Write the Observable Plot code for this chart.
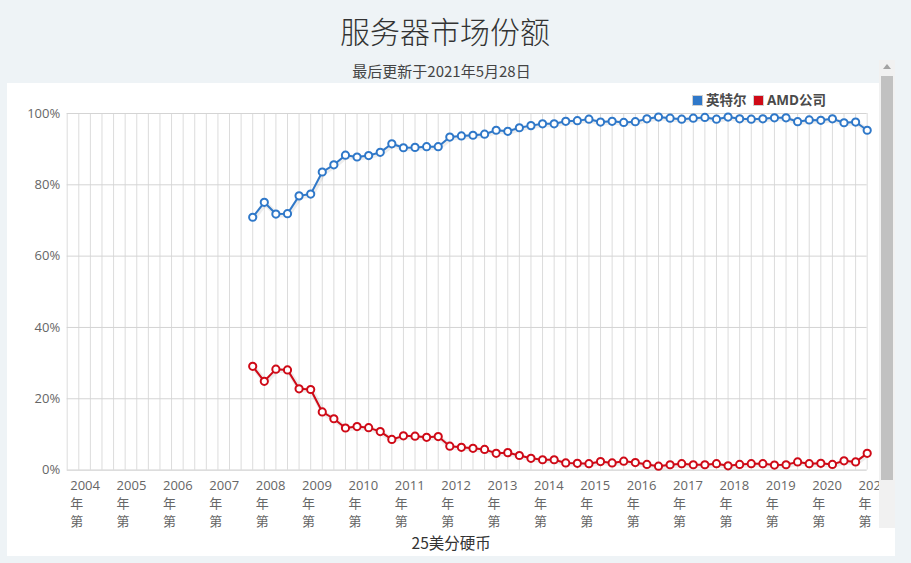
<!DOCTYPE html>
<html>
<head>
<meta charset="utf-8">
<script src="https://cdn.jsdelivr.net/npm/d3@7"></script>
<script src="https://cdn.jsdelivr.net/npm/@observablehq/plot@0.6"></script>
<style>
  html, body { margin: 0; padding: 0; }
  body { width: 911px; height: 563px; background: #eef3f6; position: relative; overflow: hidden;
         font-family: "Open Sans", "Noto Sans CJK SC", sans-serif; }
  #title { position: absolute; left: 0; width: 890px; top: 14px; text-align: center;
           font-size: 30px; line-height: 32px; color: #333; font-weight: 300;
           font-family: "Noto Sans CJK SC", sans-serif; }
  #subtitle { position: absolute; left: 0; width: 883px; top: 63px; text-align: center;
              font-size: 15px; line-height: 16px; color: #444;
              font-family: "Noto Sans CJK SC", sans-serif; }
  #panel { position: absolute; left: 7px; top: 83px; width: 888px; height: 473px; background: #fff; }
  #chart { position: absolute; left: 0; top: 83px; }
  #legend { position: absolute; left: 692px; top: 92px; font-size: 13.5px; font-weight: bold; color: #4a4a4a;
            font-family: "Open Sans", "Noto Sans CJK SC", sans-serif; line-height: 16px; white-space: nowrap; }
  #legend .sw { display: inline-block; width: 9px; height: 9px; border: 1px solid #d0d0d0; vertical-align: -1px; margin-right: 3px; }
  #legend .item { margin-right: 3px; }
  #track { position: absolute; left: 879px; top: 60px; width: 16px; height: 468px; background: #f1f1f1; }
  #thumb { position: absolute; left: 881px; top: 76px; width: 12px; height: 404px; background: #c1c1c1; }
  #arrow { position: absolute; left: 883px; top: 64px; width: 0; height: 0;
           border-left: 4px solid transparent; border-right: 4px solid transparent; border-bottom: 5px solid #a3a3a3; }
</style>
</head>
<body>
<div id="title">服务器市场份额</div>
<div id="subtitle">最后更新于2021年5月28日</div>
<div id="panel"></div>
<div id="chart"></div>
<div id="legend"><span class="item"><span class="sw" style="background:#2f78c9"></span>英特尔</span> <span class="item"><span class="sw" style="background:#cf0a17"></span>AMD公司</span></div>
<div id="track"></div>
<div id="thumb"></div>
<div id="arrow"></div>
<script>
// Categories: quarters
const years = [2004, 2005, 2006, 2007, 2008, 2009, 2010, 2011, 2012, 2013, 2014, 2015, 2016, 2017, 2018, 2019, 2020, 2021];
const quarterNames = ["第1季度", "第2季度", "第3季度", "第4季度"];
const lastQuarter = "2021年第2季度";
const firstDataQuarter = "2008年第1季度";

// Series (percent share), one value per quarter from firstDataQuarter
const seriesNames = ["英特尔", "AMD公司"];
const seriesColors = ["#2f78c9", "#cf0a17"];
const intel = [70.9, 75.1, 71.8, 71.9, 76.9, 77.4, 83.6, 85.6, 88.3, 87.8,
               88.2, 89.1, 91.5, 90.4, 90.5, 90.7, 90.7, 93.4, 93.7, 93.9,
               94.2, 95.3, 95.0, 96.0, 96.6, 97.1, 97.1, 97.8, 98.0, 98.4,
               97.6, 97.8, 97.5, 97.7, 98.5, 99.0, 98.7, 98.4, 98.7, 98.9,
               98.4, 99.0, 98.5, 98.4, 98.5, 98.8, 98.8, 97.7, 98.2, 98.1,
               98.5, 97.4, 97.6, 95.3];
const amd = [29.1, 24.9, 28.3, 28.1, 22.8, 22.6, 16.3, 14.4, 11.8, 12.2,
             11.9, 10.8, 8.6, 9.6, 9.5, 9.2, 9.4, 6.7, 6.4, 6.1,
             5.8, 4.7, 4.9, 4.1, 3.3, 2.9, 2.9, 2.0, 1.9, 1.8,
             2.4, 2.0, 2.5, 2.1, 1.6, 1.1, 1.5, 1.8, 1.5, 1.5,
             1.8, 1.2, 1.6, 1.8, 1.8, 1.4, 1.5, 2.3, 1.8, 1.9,
             1.6, 2.6, 2.3, 4.7];
const yTicks = [0, 20, 40, 60, 80, 100];

// Build tables
const allQuarters = years.flatMap(y => quarterNames.map(q => `${y}年${q}`));
const categories = allQuarters.slice(0, allQuarters.indexOf(lastQuarter) + 1);
const dataQuarters = categories.slice(categories.indexOf(firstDataQuarter));
const rows = [
  ...intel.map((v, i) => ({q: dataQuarters[i], v, s: seriesNames[0]})),
  ...amd.map((v, i) => ({q: dataQuarters[i], v, s: seriesNames[1]}))
];
const xTicks = categories.filter(d => d.includes("第1季度"));

const font = "'Open Sans', 'Noto Sans CJK SC', sans-serif";
const chart = Plot.plot({
  width: 880,
  height: 473,
  marginLeft: 66.7,
  marginRight: 13.3,
  marginTop: 30,
  marginBottom: 86.4,
  style: {fontFamily: font, fontSize: "13px", background: "transparent", color: "#666"},
  x: {type: "point", domain: categories, padding: 0},
  y: {domain: [0, 100]},
  color: {domain: seriesNames, range: seriesColors},
  marks: [
    Plot.ruleX(categories, {stroke: "#dcdcdc", strokeWidth: 1}),
    Plot.ruleY(yTicks.filter(d => d > 0), {stroke: "#d4d4d4"}),
    Plot.ruleY([0], {stroke: "#c6c6c6"}),
    Plot.axisY({ticks: yTicks, tickFormat: d => d + "%", tickSize: 0, tickPadding: 7, label: null, fill: "#666", fontSize: 13}),
    Plot.axisX({ticks: xTicks, tickFormat: d => d.slice(0, 4) + "\n年\n第", tickSize: 0, tickPadding: 7,
                textAnchor: "start", dx: 3, lineHeight: 1.4, label: null, fill: "#666", fontSize: 13}),
    Plot.line(rows, {x: "q", y: "v", z: "s", stroke: "black", strokeOpacity: 0.07, strokeWidth: 5, dx: 1, dy: 1}),
    Plot.line(rows, {x: "q", y: "v", z: "s", stroke: "s", strokeWidth: 2}),
    Plot.dot(rows, {x: "q", y: "v", stroke: "s", fill: "white", r: 3.6, strokeWidth: 2}),
    Plot.text(["25美分硬币"], {frameAnchor: "bottom", x: null, dx: -16, dy: 79, fontSize: 15.5, fill: "#333",
               fontFamily: "'Noto Sans CJK SC', sans-serif"})
  ]
});
document.getElementById("chart").appendChild(chart);
</script>
</body>
</html>
